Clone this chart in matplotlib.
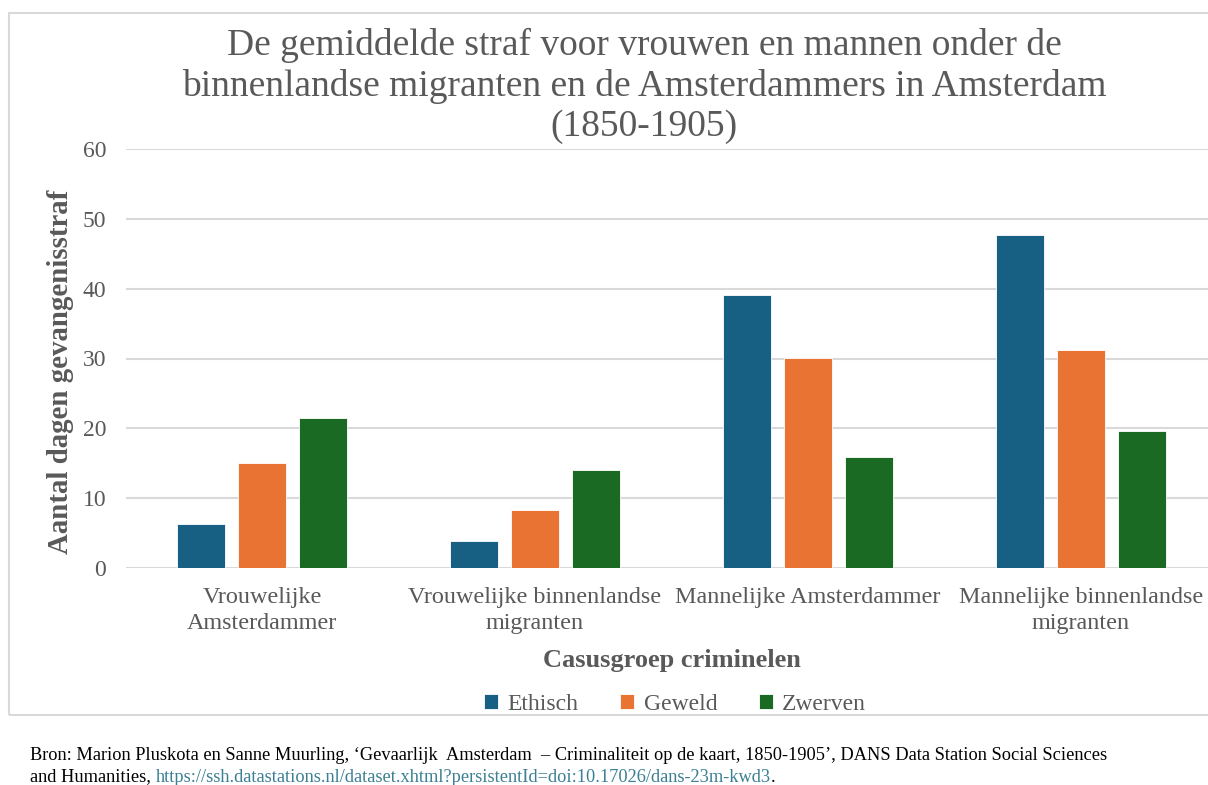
import matplotlib
matplotlib.use('Agg')
import matplotlib.pyplot as plt
import numpy as np
from matplotlib.patches import Rectangle

groups = ['Vrouwelijke\nAmsterdammer', 'Vrouwelijke binnenlandse\nmigranten',
          'Mannelijke Amsterdammer', 'Mannelijke binnenlandse\nmigranten']
ethisch = [6.3, 3.9, 39.1, 47.7]
geweld = [15.0, 8.3, 30.1, 31.2]
zwerven = [21.5, 14.0, 15.9, 19.6]
series = ['Ethisch', 'Geweld', 'Zwerven']
colors = ['#175f83', '#e97333', '#1b6a23']

grey = '#595959'
plt.rcParams['font.family'] = ['Liberation Serif', 'DejaVu Serif']

fig = plt.figure(figsize=(12.08, 7.85), dpi=100)
fig.patch.set_facecolor('white')
# chart border
fig.add_artist(Rectangle((9 / 1208, 1 - 715 / 785), 1.2, (715 - 13) / 785,
                         transform=fig.transFigure, fill=False,
                         edgecolor='#d9d9d9', lw=1.5))

ax = fig.add_axes([125.5 / 1208, 217 / 785, 1092 / 1208, 419 / 785])
x = np.arange(len(groups))
w = 0.176
step = 0.222
for i, (vals, name, c) in enumerate(zip([ethisch, geweld, zwerven], series, colors)):
    ax.bar(x + (i - 1) * step, vals, w, color=c, label=name, zorder=3,
           edgecolor='white', linewidth=0.6)

ax.set_xlim(-0.5, 3.5)
ax.set_ylim(0, 60)
ax.set_yticks(range(0, 61, 10))
ax.set_xticks(x)
ax.set_xticklabels(groups, fontsize=17.4, color=grey, linespacing=1.3)
ax.tick_params(axis='y', labelsize=17, labelcolor=grey, length=0, pad=14)
ax.tick_params(axis='x', length=0, pad=14)
ax.grid(axis='y', color='#d9d9d9', lw=1.5, zorder=0)
for s in ax.spines.values():
    s.set_visible(False)

fig.text(61 / 1208, 1 - 372 / 785, 'Aantal dagen gevangenisstraf', rotation=90,
         ha='center', va='center', fontsize=20.8, fontweight='bold', color=grey)
fig.text(672 / 1208, 1 - 661 / 785, 'Casusgroep criminelen', ha='center', va='center',
         fontsize=19, fontweight='bold', color=grey)

fig.text(644 / 1208, 1 - 86 / 785,
         'De gemiddelde straf voor vrouwen en mannen onder de\n'
         'binnenlandse migranten en de Amsterdammers in Amsterdam\n(1850-1905)',
         ha='center', va='center', fontsize=27, color=grey, linespacing=1.22)

fig.legend(loc='center', bbox_to_anchor=(675 / 1208, 1 - 704 / 785), ncol=3,
           frameon=False, fontsize=17, labelcolor=grey, handlelength=0.6,
           handleheight=0.6, handletextpad=0.4, columnspacing=1.75)

fs = 13.2
fig.text(30 / 1208, 1 - 756 / 785,
         'Bron: Marion Pluskota en Sanne Muurling, \u2018Gevaarlijk  Amsterdam  \u2013 Criminaliteit op de kaart, '
         '1850-1905\u2019, DANS Data Station Social Sciences',
         ha='left', va='center', fontsize=fs, color='black')
t1 = fig.text(30 / 1208, 1 - 777 / 785, 'and Humanities, ', ha='left', va='center',
              fontsize=fs, color='black')
a2 = plt.annotate('https://ssh.datastations.nl/dataset.xhtml?persistentId=doi:10.17026/dans-23m-kwd3',
                  xy=(1, 0), xycoords=t1, ha='left', va='bottom', fontsize=fs,
                  color='#3a7f93', annotation_clip=False)
plt.annotate('.', xy=(1, 0), xycoords=a2, ha='left', va='bottom', fontsize=fs,
             color='black', annotation_clip=False)

fig.savefig('out.png', dpi=100)
